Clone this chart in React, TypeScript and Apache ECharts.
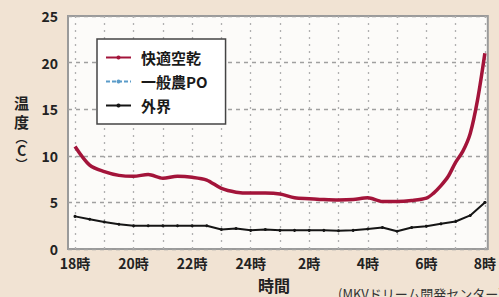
import React, { useEffect, useRef } from "react";
import * as echarts from "echarts";

const hoursMain = [18, 18.5, 19, 19.5, 20, 20.5, 21, 21.5, 22, 22.5, 23, 23.5, 24, 24.5, 25, 25.5, 26, 26.5, 27, 27.5, 28, 28.5, 29, 29.5, 30, 30.25, 30.5, 30.75, 31, 31.25, 31.5, 31.75, 32];
const kaitekiValues = [11.0, 9.0, 8.3, 7.9, 7.8, 8.0, 7.6, 7.8, 7.7, 7.4, 6.5, 6.1, 6.0, 6.0, 5.9, 5.5, 5.4, 5.3, 5.25, 5.3, 5.5, 5.1, 5.1, 5.2, 5.45, 6.0, 6.8, 7.8, 9.3, 10.5, 12.4, 16.0, 21.0];
const hoursOut = [18, 18.5, 19, 19.5, 20, 20.5, 21, 21.5, 22, 22.5, 23, 23.5, 24, 24.5, 25, 25.5, 26, 26.5, 27, 27.5, 28, 28.5, 29, 29.5, 30, 30.5, 31, 31.5, 32];
const outsideValues = [3.5, 3.2, 2.9, 2.65, 2.5, 2.5, 2.5, 2.5, 2.5, 2.5, 2.1, 2.2, 2.0, 2.1, 2.0, 2.0, 2.0, 2.0, 1.95, 2.0, 2.15, 2.3, 1.9, 2.3, 2.45, 2.7, 2.95, 3.6, 5.0];
const ippanValues: number[] = [];
const tickHours = [18, 19, 20, 21, 22, 23, 24, 25, 26, 27, 28, 29, 30, 31, 32];
const labelHours = [18, 20, 22, 24, 26, 28, 30, 32];
const seriesNames = ["快適空乾", "一般農PO", "外界"];

const FONT = "'Noto Sans CJK JP', 'Liberation Sans', sans-serif";

export default function App() {
  const ref = useRef<HTMLDivElement>(null);
  useEffect(() => {
    if (!ref.current) return;
    const chart = echarts.init(ref.current, null, { renderer: "svg" });
    const pair = (xs: number[], ys: number[]) => ys.map((y, i) => [xs[i], y]);
    chart.setOption({
      animation: false,
      backgroundColor: "#f1e3d3",
      grid: {
        left: 68,
        top: 16,
        right: 9,
        bottom: 48,
        show: true,
        backgroundColor: "#fcfbf9",
        borderColor: "#9a9a9a",
        borderWidth: 2,
      },
      legend: {
        orient: "vertical",
        left: 97,
        top: 39,
        padding: [11, 18, 11, 8],
        itemGap: 9,
        itemWidth: 25,
        itemHeight: 5,
        backgroundColor: "#ffffff",
        borderColor: "#444",
        borderWidth: 1.5,
        borderRadius: 0,
        data: seriesNames,
        textStyle: {
          fontFamily: FONT,
          fontSize: 15,
          fontWeight: "bold",
          color: "#1a1a1a",
          lineHeight: 14,
          padding: [0, 0, 0, 5],
        },
      },
      xAxis: {
        type: "value",
        min: 17.76,
        max: 32.1,
        axisLine: { show: false },
        axisTick: { show: false, customValues: tickHours },
        splitLine: {
          show: true,
          lineStyle: { color: "#b0b0b0", type: [2, 5], width: 1.3 },
        },
        axisLabel: {
          customValues: labelHours,
          margin: 7,
          fontFamily: FONT,
          fontSize: 14,
          fontWeight: "bold",
          color: "#222",
          formatter: (v: number) => (v === 24 ? "24" : String(v > 24 ? v - 24 : v)) + "時",
        },
      },
      yAxis: {
        type: "value",
        min: 0,
        max: 25,
        interval: 5,
        axisLine: { show: false },
        axisTick: { show: false },
        splitLine: {
          show: true,
          lineStyle: { color: "#a0a0a0", type: [4, 4], width: 1.3 },
        },
        axisLabel: {
          margin: 10,
          fontFamily: FONT,
          fontSize: 14,
          fontWeight: "bold",
          color: "#222",
        },
      },
      series: [
        {
          name: seriesNames[0],
          type: "line",
          data: pair(hoursMain, kaitekiValues),
          smooth: 0.3,
          symbol: "none",
          lineStyle: { color: "#a3143a", width: 3.5 },
          itemStyle: { color: "#a3143a" },
          z: 3,
        },
        {
          name: seriesNames[1],
          type: "line",
          data: ippanValues,
          symbol: "none",
          lineStyle: { color: "#5b9cc9", width: 3, type: [4, 2] },
          itemStyle: { color: "#5b9cc9" },
          z: 2,
        },
        {
          name: seriesNames[2],
          type: "line",
          data: pair(hoursOut, outsideValues),
          symbol: "circle",
          symbolSize: 3,
          lineStyle: { color: "#151515", width: 2 },
          itemStyle: { color: "#151515" },
          z: 4,
        },
      ],
      graphic: [
        {
          type: "text",
          left: 14,
          top: 95,
          style: {
            text: "{a|温}\n{a|度}\n{p|︵}\n{c|C}\n{p|︶}",
            align: "center",
            rich: {
              a: { font: `bold 15px ${FONT}`, fill: "#222", lineHeight: 19, align: "center" },
              p: { font: `bold 12px ${FONT}`, fill: "#222", lineHeight: 12, align: "center" },
              c: { font: `bold 14px ${FONT}`, fill: "#222", lineHeight: 14, align: "center" },
            },
          },
        },
        {
          type: "text",
          left: 258,
          top: 277,
          style: { text: "時間", font: `bold 16px ${FONT}`, fill: "#222" },
        },
        {
          type: "text",
          left: 338,
          top: 287,
          style: { text: "(MKVドリーム開発センター)", font: `13px ${FONT}`, fill: "#333" },
        },
      ],
    });
    return () => chart.dispose();
  }, []);
  return (
    <div
      ref={ref}
      style={{ position: "fixed", left: 0, top: 0, width: 499, height: 297 }}
    />
  );
}
